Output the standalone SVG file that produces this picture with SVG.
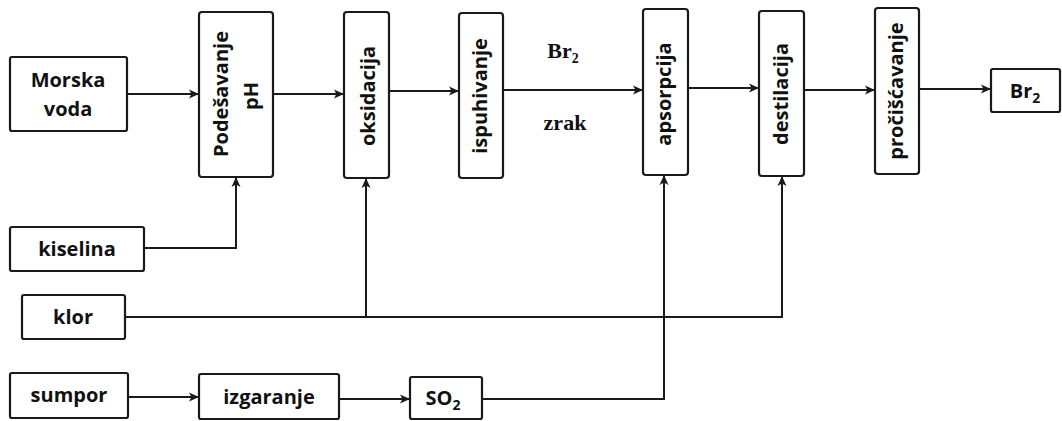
<svg xmlns="http://www.w3.org/2000/svg" width="1062" height="421" viewBox="0 0 1062 421">
<defs>
<marker id="arr" markerUnits="userSpaceOnUse" markerWidth="12" markerHeight="10" refX="10" refY="5" orient="auto">
<path d="M0,0.5 L10,5 L0,9.5 L2.5,5 Z" fill="#1a1a1a"/>
</marker>
<style>
.box{fill:#fff;stroke:#1a1a1a;stroke-width:2.2}
.t{font-family:"Open Sans","Liberation Sans",sans-serif;font-weight:bold;font-size:20px;fill:#111;text-anchor:middle}
.s{font-family:"Liberation Serif","Times New Roman",serif;font-weight:bold;font-size:22px;fill:#111;text-anchor:middle}
.c{fill:none;stroke:#1a1a1a;stroke-width:2}
.sub{font-size:14px}
</style>
</defs>
<rect width="1062" height="421" fill="#fff"/>
<g id="connectors">
<path class="c" d="M127,94 H199" marker-end="url(#arr)"/>
<path class="c" d="M273,94 H344" marker-end="url(#arr)"/>
<path class="c" d="M389,91 H459" marker-end="url(#arr)"/>
<path class="c" d="M503,90 H643" marker-end="url(#arr)"/>
<path class="c" d="M688,88 H759" marker-end="url(#arr)"/>
<path class="c" d="M804,90 H875" marker-end="url(#arr)"/>
<path class="c" d="M919,89 H991" marker-end="url(#arr)"/>
<path class="c" d="M144,248 H236 V177" marker-end="url(#arr)"/>
<path class="c" d="M125,317 H782 V176" marker-end="url(#arr)"/>
<path class="c" d="M366,317 V178" marker-end="url(#arr)"/>
<path class="c" d="M128,397 H199" marker-end="url(#arr)"/>
<path class="c" d="M339,399 H410" marker-end="url(#arr)"/>
<path class="c" d="M482,399 H664 V175" marker-end="url(#arr)"/>
<text class="s" x="563" y="58">Br<tspan class="sub" dy="5">2</tspan></text>
<text class="s" x="565" y="130">zrak</text>
</g>
<g id="morska-voda">
<rect class="box" x="10" y="57" width="117" height="74" rx="2"/>
<text class="t" x="68" y="87">Morska</text>
<text class="t" x="68" y="116">voda</text>
</g>
<g id="podesavanje-ph">
<rect class="box" x="199" y="12" width="74" height="165" rx="3"/>
<text class="t" transform="translate(228,94) rotate(-90)">Podešavanje</text>
<text class="t" transform="translate(258,96) rotate(-90)">pH</text>
</g>
<g id="oksidacija">
<rect class="box" x="344" y="12" width="45" height="166" rx="3"/>
<text class="t" transform="translate(375,96) rotate(-90)">oksidacija</text>
</g>
<g id="ispuhivanje">
<rect class="box" x="459" y="13" width="44" height="165" rx="3"/>
<text class="t" transform="translate(487,96) rotate(-90)">ispuhivanje</text>
</g>
<g id="apsorpcija">
<rect class="box" x="643" y="9" width="45" height="166" rx="3"/>
<text class="t" transform="translate(671,94) rotate(-90)">apsorpcija</text>
</g>
<g id="destilacija">
<rect class="box" x="759" y="11" width="45" height="165" rx="3"/>
<text class="t" transform="translate(788,94) rotate(-90)">destilacija</text>
</g>
<g id="prociscavanje">
<rect class="box" x="875" y="8" width="44" height="166" rx="3"/>
<text class="t" transform="translate(903,91) rotate(-90)">pročišćavanje</text>
</g>
<g id="br2">
<rect class="box" x="991" y="69" width="69" height="43" rx="2"/>
<text class="t" x="1025" y="98">Br<tspan class="sub" dy="5">2</tspan></text>
</g>
<g id="kiselina">
<rect class="box" x="10" y="227" width="134" height="44" rx="2"/>
<text class="t" x="77" y="256">kiselina</text>
</g>
<g id="klor">
<rect class="box" x="22" y="295" width="103" height="44" rx="2"/>
<text class="t" x="73" y="324">klor</text>
</g>
<g id="sumpor">
<rect class="box" x="10" y="373" width="118" height="45" rx="2"/>
<text class="t" x="69" y="402">sumpor</text>
</g>
<g id="izgaranje">
<rect class="box" x="199" y="374" width="140" height="45" rx="2"/>
<text class="t" x="269" y="404">izgaranje</text>
</g>
<g id="so2">
<rect class="box" x="410" y="377" width="72" height="42" rx="2"/>
<text class="t" x="443" y="405">SO<tspan class="sub" dy="5">2</tspan></text>
</g>
</svg>
